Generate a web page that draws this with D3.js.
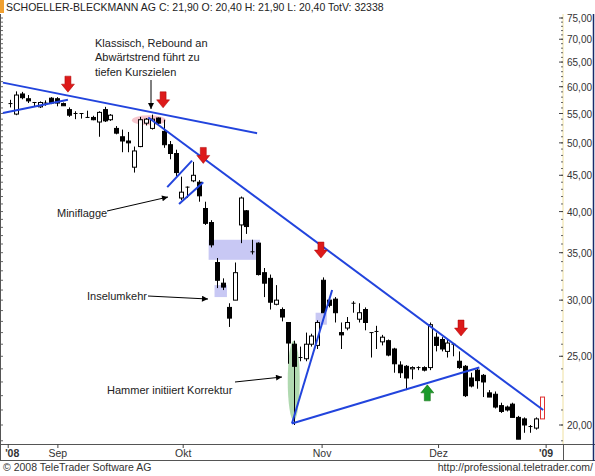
<!DOCTYPE html>
<html><head><meta charset="utf-8">
<script src="https://cdn.jsdelivr.net/npm/d3@7"></script>
<style>body{margin:0;background:#fff}svg{display:block;font-family:"Liberation Sans",Arial,sans-serif}</style>
</head><body><svg id="c" width="595" height="476"></svg>
<script>
// OHLC per trading day (index 0 = late Aug 2008)
const opens  = [56.8,54.9,58.6,57.7,57.0,56.2,56.9,57.8,57.7,56.8,55.7,55.0,55.0,54.3,54.3,53.5,55.7,53.9,52.4,51.0,50.3,46.2,49.4,53.3,52.4,54.2,51.9,49.7,48.3,41.8,43.3,44.2,44.0,40.4,38.6,33.9,31.7,29.3,30.0,38.3,40.1,35.1,36.1,32.8,32.2,29.6,29.1,27.9,26.0,24.9,24.8,26.0,25.9,32.0,30.0,30.1,27.0,27.4,29.7,28.2,29.1,27.0,27.1,26.2,26.3,25.6,24.3,24.2,24.0,24.1,24.1,24.1,26.6,26.4,25.4,26.0,24.6,24.2,23.3,23.9,23.5,22.2,22.1,21.3,21.2,21.4,20.5,20.4,19.9,19.8,20.4];
const highs  = [57.5,59.1,59.0,58.4,57.1,57.2,57.4,58.0,58.0,57.0,56.1,55.4,55.0,55.5,54.6,55.4,56.2,54.9,52.8,52.2,51.8,49.4,54.4,54.2,54.8,54.3,53.9,50.3,48.9,44.8,43.4,47.0,44.3,41.3,38.9,34.4,32.2,29.7,33.9,42.0,40.2,36.5,36.2,33.3,32.6,31.5,29.3,27.9,26.3,25.8,27.0,26.9,28.1,32.3,30.2,30.3,27.9,28.4,29.9,29.7,29.3,27.0,27.6,26.8,26.4,25.7,24.6,24.3,24.2,24.2,24.2,27.9,27.0,26.6,26.4,26.1,25.4,24.3,23.7,24.1,23.6,22.4,22.3,21.5,21.3,21.5,20.6,20.5,20.0,20.5,21.9];
const lows   = [56.1,54.7,57.6,56.9,56.2,56.0,56.4,56.7,56.3,56.4,54.4,54.0,54.1,54.2,53.8,51.0,53.5,53.7,51.4,48.5,48.5,45.4,49.3,52.9,52.2,53.1,49.2,47.4,44.9,41.5,41.8,44.0,41.3,38.3,35.6,31.2,31.0,27.5,30.0,36.1,37.2,34.8,32.5,30.3,29.1,29.5,28.0,24.4,20.0,24.6,24.6,25.8,25.6,28.8,29.3,27.9,25.6,27.2,28.8,27.9,27.2,24.9,25.6,25.9,25.0,23.7,23.3,22.4,23.2,23.9,23.8,23.9,25.4,25.4,24.9,25.0,24.0,21.9,22.6,22.5,21.9,21.9,21.1,20.8,20.9,20.5,19.1,19.5,19.5,19.7,20.4];
const closes = [56.8,58.4,57.9,57.3,57.0,57.0,56.9,56.9,56.9,56.4,54.7,55.0,55.0,54.3,53.9,55.2,53.7,54.7,51.6,50.3,50.0,48.7,53.9,54.0,54.0,53.3,49.7,48.3,45.4,42.6,43.3,45.0,42.1,38.5,35.9,32.0,31.3,28.3,32.8,41.8,38.1,35.1,32.6,31.7,29.8,30.0,28.4,26.1,24.2,24.9,26.0,26.7,27.9,28.8,29.5,28.8,26.8,27.9,29.7,28.8,27.9,26.9,27.1,26.6,25.1,24.4,23.7,23.3,24.1,24.1,23.9,27.7,25.9,25.6,26.1,25.9,24.1,22.0,22.7,23.1,23.0,21.9,21.2,20.9,21.0,20.5,19.1,20.0,19.9,20.4,21.9];
const yTicks = [20,25,30,35,40,45,50,55,60,65,70,75];
const xTickLabels = ["'08","Sep","Okt","Nov","Dez","'09"];
const xTickPos = [-0.3,8.1,29.3,52.8,72.5,90.7];
// trend lines [index, price] endpoints
const trendLines = [
  [[-1.2,60.8],[41.8,51.6]],
  [[-1.2,55.1],[9.8,57.5]],
  [[23.4,54.3],[90.2,21.0]],
  [[26.6,43.3],[30.8,47.2]],
  [[28.6,41.0],[32.7,44.0]],
  [[47.7,20.1],[54.5,31.0]],
  [[47.7,20.1],[79.4,24.1]]
];
const downArrows = [[9.8,60.5],[25.9,57.5],[32.7,48.0],[52.6,35.3],[76.3,27.4]];
const upArrows = [[70.6,22.2]];
const rects = [[33.6,42.3,36.5,34.2],[34.6,36.7,31.5,30.3],[51.7,53.6,28.8,27.7]];

const svg = d3.select("#c");
const x = d3.scaleLinear().domain([0,90]).range([10,542]);
const y = d3.scaleLog().domain([20,75]).range([425,18]);
const g = svg.append("g");
// header
svg.append("rect").attr("x",0).attr("y",0).attr("width",4).attr("height",13).attr("fill","#f0a030");
svg.append("text").attr("x",6).attr("y",11).attr("font-size",10.5).attr("fill","#222")
  .text("SCHOELLER-BLECKMANN AG C: 21,90 O: 20,40 H: 21,90 L: 20,40 TotV: 32338");
// frame
svg.append("line").attr("x1",0).attr("x2",595).attr("y1",444.5).attr("y2",444.5).attr("stroke","#555");
svg.append("line").attr("x1",0).attr("x2",595).attr("y1",460.5).attr("y2",460.5).attr("stroke","#555");
svg.append("line").attr("x1",563.5).attr("x2",563.5).attr("y1",444).attr("y2",461).attr("stroke","#555");
svg.append("line").attr("x1",593.5).attr("x2",593.5).attr("y1",14).attr("y2",461).attr("stroke","#1a2a6a").attr("stroke-width",1.5);
svg.append("line").attr("x1",0.5).attr("x2",0.5).attr("y1",14).attr("y2",461).attr("stroke","#555");
// right axis
const ax = svg.append("g").attr("transform","translate(563,0)");
ax.append("line").attr("x1",0).attr("x2",0).attr("y1",14).attr("y2",444).attr("stroke","#efe0a0");
d3.range(19,77).forEach(v=>{ if(y(v)>14&&y(v)<444){
  ax.append("line").attr("x1",-2).attr("x2",0).attr("y1",y(v)).attr("y2",y(v)).attr("stroke","#666");
  svg.append("line").attr("x1",1).attr("x2",3).attr("y1",y(v)).attr("y2",y(v)).attr("stroke","#666");}});
yTicks.forEach(v=>{
  ax.append("line").attr("x1",-4).attr("x2",0).attr("y1",y(v)).attr("y2",y(v)).attr("stroke","#444");
  ax.append("text").attr("x",4).attr("y",y(v)+4).attr("font-size",10).attr("fill","#333").text(v.toFixed(2).replace(".",","));
});
// x axis
xTickLabels.forEach((t,i)=>{
  const px=x(xTickPos[i]);
  svg.append("line").attr("x1",px).attr("x2",px).attr("y1",444).attr("y2",448).attr("stroke","#444");
  svg.append("text").attr("x",i==0?px+4:px).attr("y",457).attr("font-size",10.5).attr("font-weight",(i==0||i==5)?"bold":"normal")
   .attr("text-anchor","middle").attr("fill","#333").text(t);
});
svg.append("text").attr("x",3).attr("y",471).attr("font-size",10.5).attr("fill","#333").text("© 2008 TeleTrader Software AG");
svg.append("text").attr("x",593).attr("y",471).attr("font-size",10.5).attr("text-anchor","end").attr("fill","#333").text("http://professional.teletrader.com/");
// highlights
g.append("ellipse").attr("cx",x(23.5)).attr("cy",y(53.8)).attr("rx",17).attr("ry",5).attr("fill","#f4b8c0").attr("opacity",0.8);
rects.forEach(r=>g.append("rect").attr("x",x(r[0])).attr("y",y(r[2])).attr("width",x(r[1])-x(r[0])).attr("height",y(r[3])-y(r[2])).attr("fill","#c8c8f4"));
g.append("ellipse").attr("cx",x(48)).attr("cy",y(23.1)).attr("rx",6).attr("ry",40).attr("fill","#9ccf9c").attr("opacity",0.8);
// candles
const bw=4;
opens.forEach((o,i)=>{
  const c=closes[i], cx=Math.round(x(i))+0.5;
  const last = i===opens.length-1;
  const col = last?"#e03030":"#000";
  g.append("line").attr("x1",cx).attr("x2",cx).attr("y1",y(highs[i])).attr("y2",y(lows[i])).attr("stroke",col);
  const top=y(Math.max(o,c)), bot=y(Math.min(o,c));
  if(Math.abs(bot-top)<1.2){ g.append("line").attr("x1",cx-2).attr("x2",cx+2).attr("y1",top).attr("y2",top).attr("stroke",col); }
  else g.append("rect").attr("x",cx-bw/2).attr("y",top).attr("width",bw).attr("height",bot-top)
    .attr("fill",c>o?"#fff":"#000").attr("stroke",col);
});
// trend lines
trendLines.forEach(l=>g.append("line").attr("x1",x(l[0][0])).attr("y1",y(l[0][1])).attr("x2",x(l[1][0])).attr("y2",y(l[1][1]))
  .attr("stroke","#2244dd").attr("stroke-width",2));
// arrows
function arrow(px,py,dir,col){
  const s=dir; // 1 = down
  const pts=[[-3,-8*s],[3,-8*s],[3,0],[6.5,0],[0,8*s],[-6.5,0],[-3,0]].map(p=>[px+p[0],py+p[1]]);
  g.append("polygon").attr("points",pts.map(p=>p.join(",")).join(" ")).attr("fill",col).attr("stroke",dir>0?"#a00":"#060").attr("stroke-width",0.5);
}
downArrows.forEach(a=>arrow(x(a[0]),y(a[1]),1,"#dd1a1a"));
upArrows.forEach(a=>arrow(x(a[0]),y(a[1]),-1,"#1a9a2a"));
// annotations
const defs=svg.append("defs");
defs.append("marker").attr("id","ah").attr("viewBox","0 0 10 10").attr("refX",10).attr("refY",5).attr("markerWidth",8).attr("markerHeight",6).attr("orient","auto")
 .append("path").attr("d","M0,0L10,5L0,10z").attr("fill","#000");
const ann=[["Klassisch, Rebound an",95,47],["Abwärtstrend führt zu",95,61],["tiefen Kurszielen",95,76],["Miniflagge",57,217],["Inselumkehr",87,300],["Hammer initiiert Korrektur",107,394]];
ann.forEach(a=>svg.append("text").attr("x",a[1]).attr("y",a[2]).attr("font-size",11).attr("fill","#222").text(a[0]));
[[151,80,151,109],[107,211,168,197],[148,296,208,299],[235,382,282,377]].forEach(l=>
 svg.append("line").attr("x1",l[0]).attr("y1",l[1]).attr("x2",l[2]).attr("y2",l[3]).attr("stroke","#000").attr("marker-end","url(#ah)"));
</script></body></html>
